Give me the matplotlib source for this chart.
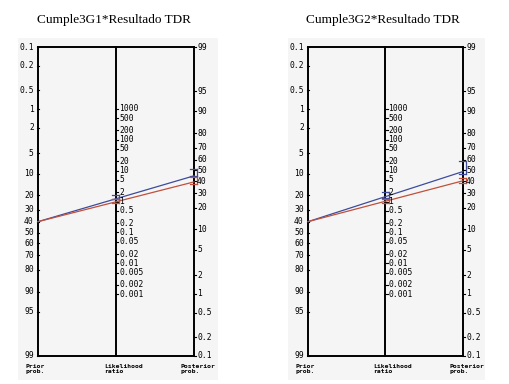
import numpy as np
import matplotlib
matplotlib.use("Agg")
import matplotlib.pyplot as plt

# Fagan nomograms for two tests (in %)
titles = ["Cumple3G1*Resultado TDR", "Cumple3G2*Resultado TDR"]
prior = [40.0, 40.0]

# blue = positive result, red = negative result
post_blue = [45.0, 49.0]
post_red = [39.5, 40.5]
post_blue_ci = [(44.5, 51.5), (47.0, 58.5)]
post_red_ci = [(38.0, 44.0), (38.5, 43.0)]
lr_blue_ci = [(1.19, 1.6), (1.3, 2.0)]
lr_red_ci = [(0.88, 1.19), (0.88, 1.2)]

prob_ticks = [0.1, 0.2, 0.5, 1, 2, 5, 10, 20, 30, 40, 50, 60, 70, 80, 90, 95, 99]
lr_ticks = [1000, 500, 200, 100, 50, 20, 10, 5, 2, 1, 0.5, 0.2, 0.1,
            0.05, 0.02, 0.01, 0.005, 0.002, 0.001]

blue = "#3d4b9c"
red = "#c0503c"
mono = "DejaVu Sans Mono"


def logit(p):
    p = np.asarray(p) / 100.0
    return np.log(p / (1 - p))


top = logit(99)
bot = logit(0.1)
c_left = top + bot          # shift so 0.1 on the left sits at the top
c_mid = c_left / 2


def y_left(p):
    return -logit(p) + c_left


def y_right(p):
    return logit(p)


def y_mid(lr):
    return c_mid + np.log(lr) / 2


fig = plt.figure(figsize=(5.1, 3.84), dpi=100)

# panel boxes in pixels: (box left, box right, left axis x, right axis x)
boxes = [(18, 218, 38, 194), (288, 485, 308, 463)]
px_per_y = (356 - 47) / (top - bot)
box_top, box_bot = 38, 380

for i, (bl, br, ax0, ax1) in enumerate(boxes):
    ax = fig.add_axes([bl / 510, (384 - box_bot) / 384,
                       (br - bl) / 510, (box_bot - box_top) / 384])
    sx = ax1 - ax0
    ax.set_xlim((bl - ax0) / sx, (br - ax0) / sx)
    ax.set_ylim(bot - (box_bot - 356) / px_per_y, top + (47 - box_top) / px_per_y)
    ax.set_facecolor("#f5f5f5")
    for s in ax.spines.values():
        s.set_visible(False)
    ax.set_xticks([])
    ax.set_yticks([])

    # frame of the nomogram
    ax.plot([0, 1], [top, top], color="k", lw=1.4)
    ax.plot([0, 1], [bot, bot], color="k", lw=1.4)
    for x in [0, 0.5, 1]:
        ax.plot([x, x], [bot, top], color="k", lw=1.4)

    tk = 2.5 / sx
    for p in prob_ticks:
        y = y_left(p)
        ax.plot([-tk / 2, tk / 2], [y, y], color="k", lw=0.8)
        ax.annotate(f"{p:g}", (0, y), xytext=(-3, 0), textcoords="offset points",
                    ha="right", va="center", fontsize=5.8, family=mono)
        y = y_right(p)
        ax.plot([1, 1 + tk], [y, y], color="k", lw=0.8)
        ax.annotate(f"{p:g}", (1, y), xytext=(2.2, 0), textcoords="offset points",
                    ha="left", va="center", fontsize=5.8, family=mono)
    for lr in lr_ticks:
        y = y_mid(lr)
        ax.plot([0.5, 0.5 + tk], [y, y], color="k", lw=0.8)
        ax.annotate(f"{lr:g}", (0.5, y), xytext=(2.2, 0), textcoords="offset points",
                    ha="left", va="center", fontsize=5.8, family=mono)

    # bottom labels
    for x, txt in [(-12 / sx, "Prior\nprob."), (0.5 - 12 / sx, "Likelihood\nratio"),
                   (1 - 13 / sx, "Posterior\nprob.")]:
        ax.annotate(txt, (x, bot), xytext=(0, -6), textcoords="offset points",
                    ha="left", va="top", fontsize=4.6, family=mono,
                    fontweight="bold", linespacing=0.85)

    # result lines
    for post, lr_ci, p_ci, col in [(post_blue[i], lr_blue_ci[i], post_blue_ci[i], blue),
                                   (post_red[i], lr_red_ci[i], post_red_ci[i], red)]:
        ax.plot([0, 1], [y_left(prior[i]), y_right(post)], color=col, lw=0.9)
        cw = 3.5 / sx
        for yy in [y_mid(lr_ci[0]), y_mid(lr_ci[1])]:
            ax.plot([0.5 - cw, 0.5 + cw], [yy, yy], color=col, lw=0.9)
        ax.plot([0.5 + cw, 0.5 + cw], [y_mid(lr_ci[0]), y_mid(lr_ci[1])], color=col, lw=0.9)
        for yy in [y_right(p_ci[0]), y_right(p_ci[1])]:
            ax.plot([1 - cw, 1 + cw], [yy, yy], color=col, lw=0.9)
        ax.plot([1 + cw, 1 + cw], [y_right(p_ci[0]), y_right(p_ci[1])], color=col, lw=0.9)

    fig.text(((bl + br) / 2 - 4) / 510, 1 - 20 / 384, titles[i], ha="center", va="center",
             fontsize=9.5, family="Liberation Serif")

fig.savefig("out.png", dpi=100, facecolor="white")
